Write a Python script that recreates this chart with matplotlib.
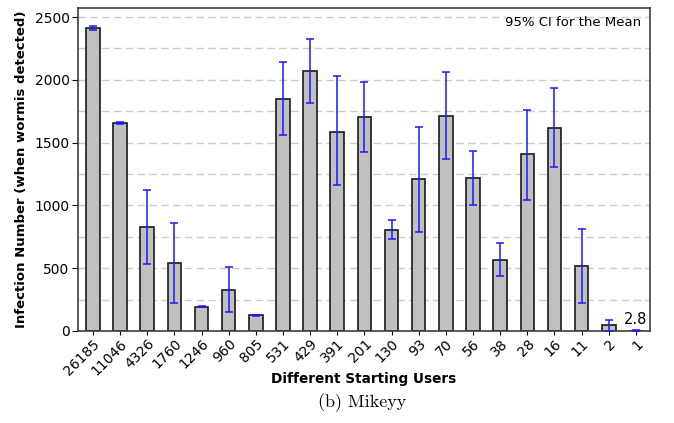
import numpy as np
import matplotlib.pyplot as plt

users = ["26185", "11046", "4326", "1760", "1246", "960", "805", "531", "429", "391",
         "201", "130", "93", "70", "56", "38", "28", "16", "11", "2", "1"]
mean = [2410, 1656, 825, 539, 194, 326, 125, 1847, 2067, 1587,
        1704, 806, 1208, 1712, 1216, 565, 1407, 1619, 518, 48, 2.8]
ci_low = [2400, 1648, 535, 220, 189, 151, 121, 1557, 1818, 1160,
          1425, 735, 786, 1367, 1003, 440, 1043, 1303, 220, 0, 0]
ci_high = [2432, 1664, 1122, 862, 199, 507, 129, 2144, 2325, 2028,
           1980, 881, 1627, 2059, 1436, 698, 1762, 1932, 812, 88, 6]

x = np.arange(len(users))
mean = np.array(mean)
yerr = [mean - np.array(ci_low), np.array(ci_high) - mean]

fig = plt.figure(figsize=(6.74, 4.23), dpi=100)
ax = fig.add_axes([0.1157, 0.2175, 0.8487, 0.7635])

ax.bar(x, mean, width=0.5, color="#c0c0c0", edgecolor="#1a1a1a", linewidth=1.2, zorder=2)
ax.errorbar(x, mean, yerr=yerr, fmt="none", ecolor="#1a1aff", elinewidth=1.1,
            capsize=3, capthick=1.1, zorder=3)

ax.set_xlim(-0.55, len(users) - 0.48)
ax.set_ylim(0, 2572)
ax.set_yticks(np.arange(0, 2501, 500))
ax.set_yticks(np.arange(0, 2572, 250), minor=True)
ax.yaxis.grid(True, which="both", linestyle=(0, (5.5, 3)), color="#cccccc", linewidth=1.0, zorder=0)
ax.set_axisbelow(True)
ax.tick_params(axis="y", which="major", direction="out", length=4, labelsize=10, pad=2)
ax.tick_params(axis="y", which="minor", length=0)
ax.tick_params(axis="x", direction="out", length=3, labelsize=10, pad=1)

ax.set_xticks(x)
ax.set_xticklabels(users, rotation=45, ha="right", rotation_mode="anchor")

for s in ax.spines.values():
    s.set_color("#404040")
    s.set_linewidth(1.2)

ax.set_ylabel("Infection Number (when wormis detected)", fontsize=9.5, fontweight="bold", labelpad=5)
ax.set_xlabel("Different Starting Users", fontsize=9.8, fontweight="bold")
ax.xaxis.set_label_coords(0.5, -0.127)

ax.text(0.985, 0.975, "95% CI for the Mean", transform=ax.transAxes,
        ha="right", va="top", fontsize=9.5)
ax.text(x[-1], mean[-1] + 30, "2.8", ha="center", va="bottom", fontsize=10.5)

fig.text(0.537, 0.047, "(b) Mikeyy", ha="center", va="center", fontsize=13, family="cmr10")

fig.savefig("out.png", dpi=100)
